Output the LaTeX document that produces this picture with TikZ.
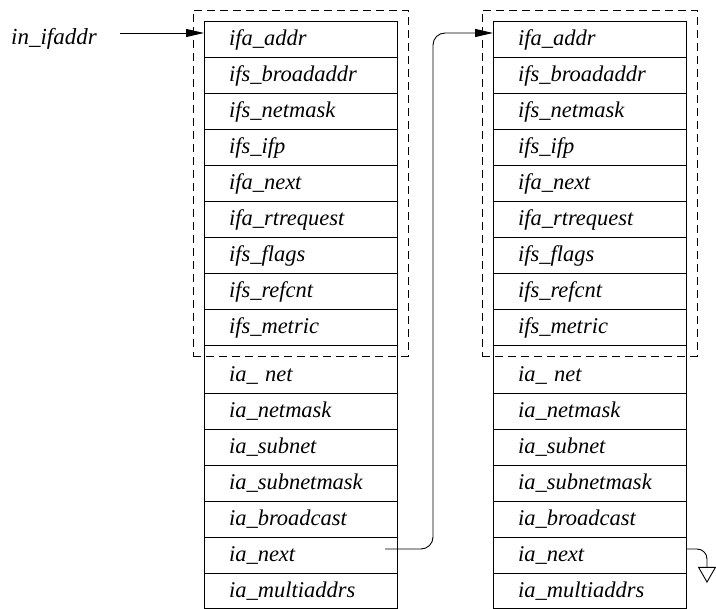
\documentclass[tikz,border=0pt]{standalone}
\usepackage{fontspec}
\setmainfont{Liberation Serif}
\usetikzlibrary{arrows.meta,positioning,fit,calc}

\tikzset{
  field/.style={draw, line width=0.9pt, inner xsep=25pt, inner ysep=0pt, outer sep=0pt,
    text width=143pt, align=left, text depth=2pt,
    font=\fontsize{22.5}{24}\selectfont\itshape},
  structbox/.style={draw, dash pattern=on 8pt off 5pt, line width=0.9pt, inner sep=11pt},
  ptr/.style={line width=0.9pt, -{Triangle[length=18pt,width=8pt]}},
  nilptr/.style={line width=0.9pt, rounded corners=10pt, -{Triangle[open,length=16pt,width=18pt]}}
}

\begin{document}
\begin{tikzpicture}[x=1pt,y=1pt]
  \useasboundingbox (0,0) rectangle (716,-609);
  \node[anchor=east, inner sep=0pt, font=\fontsize{23}{24}\selectfont\itshape] (inaddr) at (97,-39) {in\_ifaddr};
  % two in_ifaddr structures
  \foreach \col/\x in {L/300.5,R/589.5} {
    \coordinate (\col0) at (\x,-21);
    \foreach \lbl/\h/\t [count=\i, remember=\i as \j (initially 0)] in
      {ifa\_addr/36/16, ifs\_broadaddr/36/16, ifs\_netmask/36/16, ifs\_ifp/36/16,
       ifa\_next/36/16, ifa\_rtrequest/36/16, ifs\_flags/36/16, ifs\_refcnt/36/16,
       ifs\_metric/36/16, ia\_ net/48/28, ia\_netmask/36/16, ia\_subnet/36/16,
       ia\_subnetmask/36/16, ia\_broadcast/36/16, ia\_next/36/16, ia\_multiaddrs/35/16}
      \node[field, minimum height=\h pt, text height=\t pt, below=0pt of \col\j] (\col\i) {\lbl};
  }
  \node[structbox, fit=(L1)(L9)] (Lbox) {};
  \node[structbox, fit=(R1)(R9)] (Rbox) {};
  \draw[ptr] ([shift={(23pt,6pt)}]inaddr.east) -- ([yshift=6pt]L1.west);
  \draw[ptr, rounded corners=12pt] ([shift={(-12pt,6pt)}]L15.east) -- ++(48pt,0) |- ([yshift=6pt]R1.west);
  \coordinate (nil) at ([shift={(21pt,-28pt)}]R15.east);
  \draw[nilptr] ([yshift=6pt]R15.east) -| (nil);
\end{tikzpicture}
\end{document}
